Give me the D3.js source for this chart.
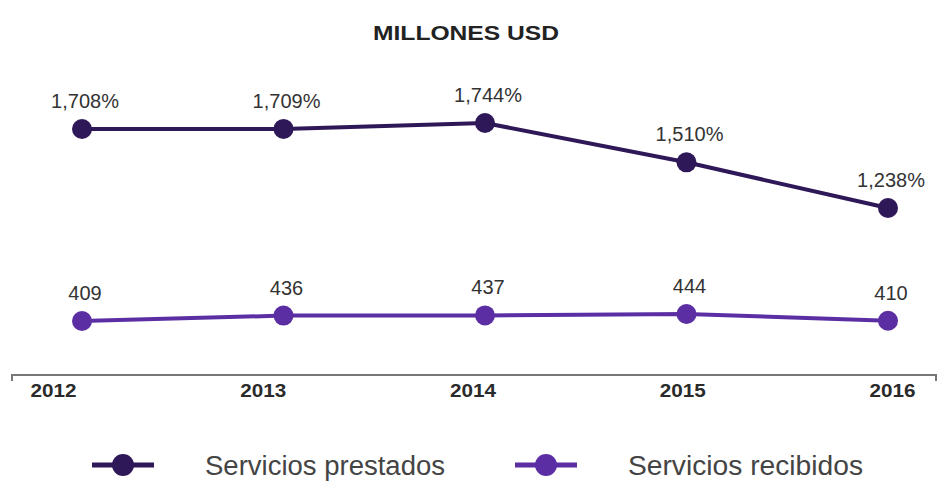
<!DOCTYPE html>
<html>
<head>
<meta charset="utf-8">
<script src="https://cdn.jsdelivr.net/npm/d3@7"></script>
<style>
  body { margin: 0; background: #fff; }
  text { font-family: "Liberation Sans", Arial, sans-serif; }
</style>
</head>
<body>
<svg id="chart" width="939" height="496"></svg>
<script>
// data
const years = ['2012', '2013', '2014', '2015', '2016'];
const prestados = [1708, 1709, 1744, 1510, 1238];
const recibidos = [409, 436, 437, 444, 410];
const prestadosLabels = ['1,708%', '1,709%', '1,744%', '1,510%', '1,238%'];
const recibidosLabels = ['409', '436', '437', '444', '410'];
const seriesNames = ['Servicios prestados', 'Servicios recibidos'];
const colors = ['#2e1857', '#5b2fa3'];

const svg = d3.select('#chart');

// x for the points, separate one for the year labels (they sit a bit offset in the original)
const x = d3.scalePoint().domain(years).range([82, 888]);
const xLabel = d3.scalePoint().domain(years).range([53, 892]);

// each line has its own (hidden) vertical scale
const yTop = d3.scaleLinear().domain([1238, 1744]).range([208, 123]);
const yBottom = d3.scaleLinear().domain([409, 444]).range([321, 314]);

svg.append('text')
  .attr('x', 466).attr('y', 40)
  .attr('text-anchor', 'middle')
  .attr('font-size', 20).attr('font-weight', 'bold')
  .attr('fill', '#222')
  .attr('textLength', 186)
  .attr('lengthAdjust', 'spacingAndGlyphs')
  .text('MILLONES USD');

// x axis
const axis = svg.append('g')
  .attr('transform', 'translate(0,375)')
  .call(d3.axisBottom(xLabel).tickSize(0).tickPadding(9));
axis.select('.domain').remove();
axis.append('path')
  .attr('d', 'M12,6V0H936V6')
  .attr('fill', 'none').attr('stroke', '#777').attr('stroke-width', 2);
axis.selectAll('.tick text')
  .attr('font-size', 19).attr('font-weight', 'bold')
  .attr('font-family', '"Liberation Sans", Arial, sans-serif')
  .attr('fill', '#2a2a2a')
  .attr('textLength', 46)
  .attr('lengthAdjust', 'spacingAndGlyphs');

function drawSeries(vals, labels, y, color, dy) {
  const line = d3.line().x((d, i) => x(years[i])).y(d => y(d));
  svg.append('path')
    .datum(vals)
    .attr('d', line)
    .attr('fill', 'none')
    .attr('stroke', color)
    .attr('stroke-width', 4);
  svg.append('g').selectAll('circle')
    .data(vals)
    .enter().append('circle')
    .attr('cx', (d, i) => x(years[i]))
    .attr('cy', d => y(d))
    .attr('r', 10)
    .attr('fill', color);
  svg.append('g').selectAll('text')
    .data(vals)
    .enter().append('text')
    .attr('x', (d, i) => x(years[i]) + 3)
    .attr('y', d => y(d) - dy)
    .attr('text-anchor', 'middle')
    .attr('font-size', 20)
    .attr('fill', '#333')
    .text((d, i) => labels[i]);
}

drawSeries(prestados, prestadosLabels, yTop, colors[0], 21);
drawSeries(recibidos, recibidosLabels, yBottom, colors[1], 21);

// legend
const legendX = [92, 515];
const legendW = [240, 235];
const legend = svg.append('g').selectAll('g')
  .data(seriesNames)
  .enter().append('g')
  .attr('transform', (d, i) => 'translate(' + legendX[i] + ',465)');
legend.append('line')
  .attr('x1', 0).attr('x2', 62)
  .attr('stroke', (d, i) => colors[i]).attr('stroke-width', 5);
legend.append('circle')
  .attr('cx', 31).attr('r', 11)
  .attr('fill', (d, i) => colors[i]);
legend.append('text')
  .attr('x', 113).attr('y', 10)
  .attr('font-size', 27)
  .attr('fill', '#444')
  .attr('textLength', (d, i) => legendW[i])
  .attr('lengthAdjust', 'spacingAndGlyphs')
  .text(d => d);
</script>
</body>
</html>
